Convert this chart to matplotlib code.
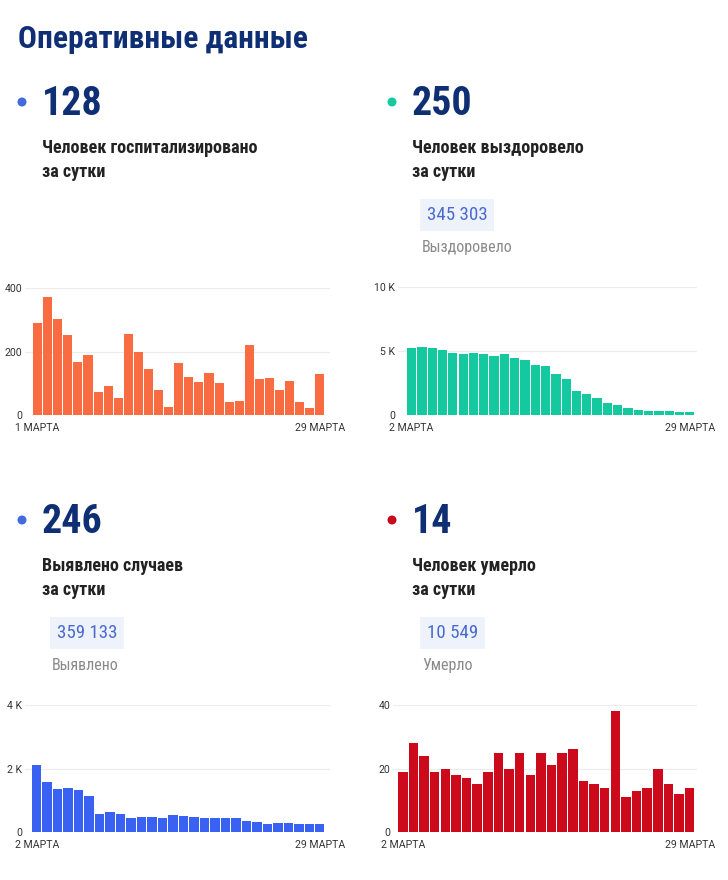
import matplotlib
matplotlib.use("Agg")
import matplotlib.pyplot as plt
import numpy as np
from matplotlib import font_manager
from matplotlib.patches import Ellipse

W, H = 728, 880
DPI = 100

names = {f.name for f in font_manager.fontManager.ttflist}
COND = [n for n in ["Liberation Sans Narrow", "Roboto Condensed", "Roboto", "DejaVu Sans"] if n in names]
REG = [n for n in ["Roboto", "DejaVu Sans"] if n in names]

# ---------------- data ----------------
title = "Оперативные данные"

hosp_values = [289, 372, 303, 253, 168, 189, 71, 92, 52, 255, 197, 144, 80, 25, 165,
               120, 105, 131, 101, 40, 43, 221, 112, 115, 79, 106, 42, 23, 128]
hosp_ticks = ["1 МАРТА", "29 МАРТА"]
hosp_yticks = [0, 200, 400]
hosp_ylabels = ["0", "200", "400"]

recov_values = [5200, 5330, 5250, 5090, 4860, 4750, 4860, 4750, 4600, 4730, 4490, 4310,
                3920, 3790, 3210, 2820, 1910, 1620, 1330, 910, 760, 520, 390, 310, 290,
                290, 240, 250]
recov_ticks = ["2 МАРТА", "29 МАРТА"]
recov_yticks = [0, 5000, 10000]
recov_ylabels = ["0", "5 K", "10 K"]

cases_values = [2100, 1560, 1360, 1400, 1310, 1130, 580, 620, 580, 450, 460, 460, 450,
                520, 500, 460, 450, 450, 430, 430, 350, 320, 260, 270, 270, 260, 250, 246]
cases_ticks = ["2 МАРТА", "29 МАРТА"]
cases_yticks = [0, 2000, 4000]
cases_ylabels = ["0", "2 K", "4 K"]

death_values = [19, 28, 24, 19, 20, 18, 17, 15, 19, 25, 20, 25, 18, 25, 21, 25, 26, 16,
                15, 14, 38, 11, 13, 14, 20, 15, 12, 14]
death_ticks = ["2 МАРТА", "29 МАРТА"]
death_yticks = [0, 20, 40]
death_ylabels = ["0", "20", "40"]

headline = ["128", "250", "246", "14"]
caption1 = ["Человек госпитализировано", "Человек выздоровело", "Выявлено случаев", "Человек умерло"]
caption2 = ["за сутки", "за сутки", "за сутки", "за сутки"]
totals = [None, "345 303", "359 133", "10 549"]
total_labels = [None, "Выздоровело", "Выявлено", "Умерло"]

NAVY = "#0f2f74"
BLUE_DOT = "#4169e1"
TEAL = "#14c9a0"
ORANGE = "#f96b41"
BLUE = "#3a62f2"
RED = "#cd0a1c"

fig = plt.figure(figsize=(W / DPI, H / DPI), dpi=DPI)
fig.patch.set_facecolor("white")

def fx(x):
    return x / W

def fy(y):
    return 1 - y / H

def px2pt(p):
    return p * 72 / DPI

fig.text(fx(18), fy(39), title, fontsize=px2pt(31.5), fontweight="bold", color=NAVY,
         family=COND, va="center", ha="left")

blocks = [
    dict(x=22, y=102, dot=BLUE_DOT),
    dict(x=392, y=102, dot=TEAL),
    dict(x=22, y=520, dot=BLUE_DOT),
    dict(x=392, y=520, dot=RED),
]

for i, b in enumerate(blocks):
    x0, y0 = b["x"], b["y"]
    fig.add_artist(Ellipse((fx(x0), fy(y0)), 9 / W, 9 / H, transform=fig.transFigure,
                           facecolor=b["dot"], edgecolor="none"))
    fig.text(fx(x0 + 20), fy(y0 + 2), headline[i], fontsize=px2pt(40), fontweight="bold",
             color=NAVY, family=COND, ha="left", va="center")
    fig.text(fx(x0 + 20), fy(y0 + 46), caption1[i], fontsize=px2pt(18), fontweight="bold",
             color="#222222", family=COND, ha="left", va="center")
    fig.text(fx(x0 + 20), fy(y0 + 70), caption2[i], fontsize=px2pt(18), fontweight="bold",
             color="#222222", family=COND, ha="left", va="center")
    if totals[i]:
        fig.text(fx(x0 + 35), fy(y0 + 113), totals[i], fontsize=px2pt(19), color="#4a6ad0",
                 family=COND, ha="left", va="center",
                 bbox=dict(boxstyle="square,pad=0.35", fc="#eef3fb", ec="none"))
        fig.text(fx(x0 + 30), fy(y0 + 145), total_labels[i], fontsize=px2pt(16), color="#8a8a8a",
                 family=COND, ha="left", va="center")

charts = [
    dict(vals=hosp_values, ticks=hosp_ticks, yt=hosp_yticks, yl=hosp_ylabels, color=ORANGE,
         ax=(25, 288, 330, 415), bars=(33, 325)),
    dict(vals=recov_values, ticks=recov_ticks, yt=recov_yticks, yl=recov_ylabels, color=TEAL,
         ax=(398, 287, 697, 415), bars=(407, 695)),
    dict(vals=cases_values, ticks=cases_ticks, yt=cases_yticks, yl=cases_ylabels, color=BLUE,
         ax=(25, 705, 330, 832), bars=(32, 325)),
    dict(vals=death_values, ticks=death_ticks, yt=death_yticks, yl=death_ylabels, color=RED,
         ax=(393, 705, 697, 832), bars=(398, 695)),
]

for c in charts:
    l, t, r, bt = c["ax"]
    ax = fig.add_axes([fx(l), fy(bt), fx(r) - fx(l), (bt - t) / H])
    n = len(c["vals"])
    xs = np.arange(n)
    ax.bar(xs, c["vals"], width=0.9, color=c["color"], zorder=3)
    bl, br = c["bars"]
    unit = (br - bl) / (n - 0.05)
    left = -0.45 - (bl - l) / unit
    right = left + (r - l) / unit
    ax.set_xlim(left, right)
    ax.set_ylim(0, c["yt"][-1])
    ax.set_yticks(c["yt"])
    ax.set_yticklabels(c["yl"])
    ax.set_xticks([0, n - 1])
    ax.set_xticklabels(c["ticks"])
    ax.tick_params(length=0, labelsize=px2pt(10.5), colors="#333333", pad=2)
    ax.tick_params(axis="x", pad=6)
    for lab in ax.get_xticklabels() + ax.get_yticklabels():
        lab.set_family(REG)
    for s in ax.spines.values():
        s.set_visible(False)
    ax.grid(axis="y", color="#ececec", linewidth=0.8, zorder=0)
    ax.set_facecolor("none")

fig.savefig("out.png", dpi=DPI)
